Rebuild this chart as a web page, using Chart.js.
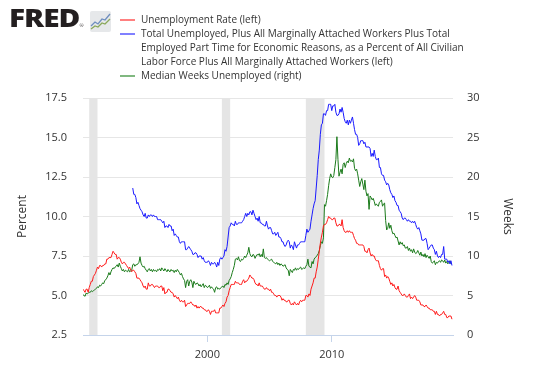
<!DOCTYPE html>
<html>
<head>
<meta charset="utf-8">
<script src="https://cdn.jsdelivr.net/npm/chart.js@4.4.1/dist/chart.umd.min.js"></script>
<style>
  html, body { margin: 0; padding: 0; background: #fff; }
  #wrap { position: relative; width: 537px; height: 385px; font-family: "Open Sans", sans-serif; }
  #chart { position: absolute; left: 0; top: 0; }
  .logo { position: absolute; left: 9px; top: 1px; font: 800 24px "Open Sans", sans-serif; color: #231f20; letter-spacing: -0.8px; transform: scaleX(1.24); transform-origin: 0 0; }
  .logo sup { font-size: 4px; font-weight: 400; vertical-align: 0; letter-spacing: 0; }
  .icon { position: absolute; left: 90px; top: 11px; }
  .legend { position: absolute; left: 120px; top: 12px; font-size: 10px; color: #333; line-height: 14px; }
  .item { position: relative; padding-left: 21px; }
  .sw { position: absolute; left: 0; top: 7px; width: 15px; height: 2px; }
</style>
</head>
<body>
<div id="wrap">
  <canvas id="chart" width="537" height="385"></canvas>
  <div class="logo">FRED<sup>®</sup></div>
  <svg class="icon" width="21" height="21" viewBox="0 0 21 21">
    <rect x="0" y="0" width="21" height="21" rx="2" fill="#e6e8ea"/>
    <polyline points="1,15 5,11 8,13 12,8 15,9 20,3" fill="none" stroke="#6f8fbf" stroke-width="1.3"/>
    <polyline points="1,18 5,15 8,16 12,12 15,13 20,8" fill="none" stroke="#8aa85a" stroke-width="1.3"/>
  </svg>
  <div class="legend" id="legend"></div>
</div>
<script>
// monthly observations, first value = Jan of startYear
const startYear = 1990;
const u6Start = 1994;

const unrate = [
  5.4,5.3,5.2,5.4,5.4,5.2,5.5,5.7,5.9,5.9,6.2,6.3,
  6.4,6.6,6.8,6.7,6.9,6.9,6.8,6.9,6.9,7.0,7.0,7.3,
  7.3,7.4,7.4,7.4,7.6,7.8,7.7,7.6,7.6,7.3,7.4,7.4,
  7.3,7.1,7.0,7.1,7.1,7.0,6.9,6.8,6.7,6.8,6.6,6.5,
  6.6,6.6,6.5,6.4,6.1,6.1,6.1,6.0,5.9,5.8,5.6,5.5,
  5.6,5.4,5.4,5.8,5.6,5.6,5.7,5.7,5.6,5.5,5.6,5.6,
  5.6,5.5,5.5,5.6,5.6,5.3,5.5,5.1,5.2,5.2,5.4,5.4,
  5.3,5.2,5.2,5.1,4.9,5.0,4.9,4.8,4.9,4.7,4.6,4.7,
  4.6,4.6,4.7,4.3,4.4,4.5,4.5,4.5,4.6,4.5,4.4,4.4,
  4.3,4.4,4.2,4.3,4.2,4.3,4.3,4.2,4.2,4.1,4.1,4.0,
  4.0,4.1,4.0,3.8,4.0,4.0,4.0,4.1,3.9,3.9,3.9,3.9,
  4.2,4.2,4.3,4.4,4.3,4.5,4.6,4.9,5.0,5.3,5.5,5.7,
  5.7,5.7,5.7,5.9,5.8,5.8,5.8,5.7,5.7,5.7,5.9,6.0,
  5.8,5.9,5.9,6.0,6.1,6.3,6.2,6.1,6.1,6.0,5.8,5.7,
  5.7,5.6,5.8,5.6,5.6,5.6,5.5,5.4,5.4,5.5,5.4,5.4,
  5.3,5.4,5.2,5.2,5.1,5.0,5.0,4.9,5.0,5.0,5.0,4.9,
  4.7,4.8,4.7,4.7,4.6,4.6,4.7,4.7,4.5,4.4,4.5,4.4,
  4.6,4.5,4.4,4.5,4.4,4.6,4.7,4.6,4.7,4.7,4.7,5.0,
  5.0,4.9,5.1,5.0,5.4,5.6,5.8,6.1,6.1,6.5,6.8,7.3,
  7.8,8.3,8.7,9.0,9.4,9.5,9.5,9.6,9.8,10.0,9.9,9.9,
  9.8,9.8,9.9,9.9,9.6,9.4,9.4,9.5,9.5,9.4,9.8,9.3,
  9.1,9.0,9.0,9.1,9.0,9.1,9.0,9.0,9.0,8.8,8.6,8.5,
  8.3,8.3,8.2,8.2,8.2,8.2,8.2,8.1,7.8,7.8,7.7,7.9,
  8.0,7.7,7.5,7.6,7.5,7.5,7.3,7.2,7.2,7.2,6.9,6.7,
  6.6,6.7,6.7,6.2,6.3,6.1,6.2,6.1,5.9,5.7,5.8,5.6,
  5.7,5.5,5.4,5.4,5.6,5.3,5.2,5.1,5.0,5.0,5.1,5.0,
  4.9,4.9,5.0,5.1,4.8,4.9,4.8,4.9,5.0,4.9,4.7,4.7,
  4.7,4.6,4.4,4.4,4.4,4.3,4.3,4.4,4.3,4.2,4.2,4.1,
  4.1,4.1,4.0,4.0,3.8,4.0,3.8,3.8,3.7,3.8,3.8,3.9,
  4.0,3.8,3.8,3.6,3.6,3.7,3.7,3.7,3.5
];

const u6rate = [
  11.8,11.4,11.4,11.2,10.8,10.9,10.7,10.5,10.4,10.3,10.1,10.0,
  10.2,9.9,9.9,10.1,10.0,10.1,10.1,10.0,10.1,10.0,10.0,10.0,
  9.8,9.8,9.8,9.8,9.7,9.6,9.7,9.3,9.4,9.4,9.3,9.5,
  9.4,9.4,9.1,9.2,8.8,8.9,8.8,8.7,8.7,8.4,8.3,8.4,
  8.4,8.4,8.4,7.9,7.9,8.0,8.1,8.0,7.9,7.8,7.6,7.6,
  7.7,7.7,7.6,7.4,7.5,7.5,7.5,7.3,7.4,7.2,7.1,7.1,
  7.1,7.2,7.1,6.9,7.1,7.0,7.0,7.1,7.0,6.8,7.1,6.9,
  7.3,7.4,7.3,7.4,7.5,7.9,7.8,8.1,8.7,9.3,9.4,9.6,
  9.5,9.5,9.4,9.7,9.5,9.5,9.6,9.6,9.6,9.6,9.7,9.8,
  10.0,10.2,10.0,10.2,10.1,10.3,10.3,10.1,10.4,10.2,10.0,9.8,
  9.9,9.7,10.0,9.6,9.6,9.5,9.5,9.4,9.4,9.7,9.4,9.2,
  9.3,9.3,9.1,8.9,8.9,9.0,8.8,8.9,9.0,8.7,8.7,8.6,
  8.4,8.4,8.2,8.1,8.2,8.4,8.5,8.4,8.0,8.2,8.1,7.9,
  8.4,8.2,8.0,8.2,8.2,8.3,8.4,8.4,8.4,8.4,8.4,8.8,
  9.2,9.0,9.1,9.2,9.7,10.1,10.5,10.8,11.0,11.8,12.6,13.6,
  14.2,15.2,15.8,15.9,16.5,16.5,16.4,16.7,16.7,17.1,17.1,17.1,
  16.7,17.0,17.0,17.1,16.6,16.4,16.4,16.5,16.8,16.6,16.9,16.6,
  16.2,16.0,15.9,16.1,15.8,16.1,15.9,16.1,16.3,15.9,15.5,15.2,
  15.2,15.0,14.5,14.6,14.8,14.8,14.8,14.6,14.7,14.4,14.4,14.4,
  14.4,14.3,13.8,14.0,13.8,14.2,13.8,13.6,13.6,13.7,13.1,13.1,
  12.7,12.6,12.6,12.3,12.2,12.0,12.1,12.0,11.7,11.5,11.4,11.2,
  11.3,11.0,10.9,10.7,10.7,10.4,10.3,10.2,9.9,9.8,9.9,9.9,
  9.8,9.7,9.8,9.7,9.7,9.6,9.7,9.6,9.7,9.5,9.3,9.2,
  9.3,9.1,8.9,8.5,8.5,8.5,8.6,8.6,8.3,7.9,8.0,8.1,
  8.2,8.2,8.0,7.9,7.6,7.8,7.5,7.4,7.5,7.4,7.6,7.6,
  8.1,7.3,7.3,7.3,7.1,7.2,7.0,7.2,6.9
];

const medianWeeks = [
  5.1,5.0,4.9,5.3,5.2,5.3,5.4,5.4,5.6,5.5,5.6,5.7,
  5.8,5.9,6.1,6.0,6.3,6.2,6.4,6.6,6.5,6.9,7.0,7.2,
  7.5,7.9,7.6,8.0,8.3,8.5,8.4,8.6,8.7,8.9,8.6,9.1,
  8.7,8.4,8.1,8.3,8.0,8.2,8.1,8.0,8.3,8.0,8.1,8.2,
  8.9,9.0,8.7,8.9,8.9,9.0,9.2,9.9,9.1,8.8,8.6,8.7,
  8.4,8.2,8.0,8.3,8.4,8.1,8.3,8.0,8.3,8.1,8.2,8.0,
  8.3,8.2,8.4,8.1,8.5,8.3,8.1,8.4,8.2,8.0,8.3,8.1,
  8.0,8.3,8.1,8.2,7.9,8.2,8.0,8.3,8.1,7.9,7.6,7.8,
  7.4,7.1,6.9,6.0,6.8,7.0,6.2,6.8,7.0,6.7,6.0,6.8,
  6.5,6.4,6.6,6.5,6.2,6.4,6.1,6.3,6.5,6.0,6.3,6.2,
  6.0,6.1,6.3,5.9,6.1,5.9,5.8,5.4,6.0,6.1,5.8,5.9,
  5.8,6.0,6.1,6.2,6.0,6.4,6.3,6.6,6.4,6.9,7.1,7.4,
  7.9,8.3,8.8,9.6,9.7,9.5,9.9,9.4,9.3,9.6,9.5,9.7,
  10.0,9.8,10.1,10.4,11.1,10.3,10.0,9.9,10.2,10.1,9.7,10.0,
  10.2,10.1,10.3,9.9,10.2,9.9,10.9,9.8,9.7,9.8,9.6,9.5,
  9.4,9.5,9.6,9.3,9.2,9.1,9.0,9.2,8.9,9.1,8.8,9.0,
  8.9,8.7,8.8,8.9,8.5,8.3,8.2,7.5,8.3,8.1,7.9,8.3,
  8.2,8.5,8.2,8.4,8.3,8.5,8.6,8.3,8.4,8.5,8.4,8.7,
  8.9,9.6,8.7,8.6,8.5,9.3,9.0,9.6,9.8,9.9,10.1,10.3,
  10.7,11.3,11.8,11.6,12.3,16.5,16.3,17.0,17.8,18.9,19.8,20.4,
  20.0,19.9,20.2,21.2,22.2,25.1,22.2,20.1,20.6,21.0,20.4,21.6,
  21.8,21.2,21.7,22.0,21.8,22.4,22.0,22.1,21.9,22.3,21.1,20.8,
  21.0,20.4,19.6,18.8,19.4,19.8,19.1,18.4,19.6,18.2,17.6,17.9,
  15.9,17.6,17.4,17.1,17.3,16.9,16.4,16.6,16.4,16.3,16.8,16.9,
  17.1,16.3,16.6,16.7,14.5,13.3,13.5,14.2,13.5,13.9,13.2,12.8,
  12.9,12.6,12.3,12.4,11.9,11.4,11.8,11.5,11.7,11.3,11.4,11.0,
  11.0,11.2,10.7,11.0,10.6,10.8,10.4,10.9,10.5,10.3,10.4,10.7,
  10.4,10.1,10.5,10.0,10.2,9.9,10.3,9.8,10.1,9.9,9.7,10.0,
  9.3,9.1,9.2,9.4,8.9,9.2,9.1,9.3,9.4,9.2,9.5,9.4,
  9.2,9.5,9.1,9.3,9.0,9.2,9.4,9.0,9.1
];

// NBER recessions, [start, end] as fractional years
const recessions = [[1990 + 6/12, 1991 + 2/12], [2001 + 2/12, 2001 + 10/12], [2007 + 11/12, 2009 + 5/12]];

const xTicks = [2000, 2010];
const leftTicks = [2.5, 5.0, 7.5, 10.0, 12.5, 15.0, 17.5];
const rightTicks = [0, 5, 10, 15, 20, 25, 30];

const labels = [
  'Unemployment Rate (left)',
  'Total Unemployed, Plus All Marginally Attached Workers Plus Total Employed Part Time for Economic Reasons, as a Percent of All Civilian Labor Force Plus All Marginally Attached Workers (left)',
  'Median Weeks Unemployed (right)'
];
const lineColors = ['#ff1a1a', '#1a1aff', '#1a7a1a'];
const swatchColors = ['#ff8080', '#8080ff', '#80b880'];

function toPoints(arr, year0){
  return arr.map(function(v, i){ return {x: year0 + i/12, y: v}; });
}

// html legend, with the long label wrapped like the original
var legendHtml = '';
var legendText = [labels[0],
  'Total Unemployed, Plus All Marginally Attached Workers Plus Total<br>Employed Part Time for Economic Reasons, as a Percent of All Civilian<br>Labor Force Plus All Marginally Attached Workers (left)',
  labels[2]];
for(var i=0; i<legendText.length; i++){
  legendHtml += '<div class="item"><span class="sw" style="background:' + swatchColors[i] + '"></span>' + legendText[i] + '</div>';
}
document.getElementById('legend').innerHTML = legendHtml;

const shading = {
  id: 'shading',
  beforeDatasetsDraw(chart){
    const ctx = chart.ctx, a = chart.chartArea, xs = chart.scales.x;
    ctx.save();
    ctx.fillStyle = '#e5e5e5';
    recessions.forEach(function(r){
      const x0 = xs.getPixelForValue(r[0]), x1 = xs.getPixelForValue(r[1]);
      ctx.fillRect(x0, a.top, x1 - x0, a.bottom - a.top);
    });
    ctx.restore();
  }
};

const tickFont = {family: 'Open Sans', size: 11};

new Chart(document.getElementById('chart'), {
  type: 'line',
  data: {
    datasets: [
      {label: labels[0], data: toPoints(unrate, startYear), borderColor: lineColors[0], yAxisID: 'y'},
      {label: labels[1], data: toPoints(u6rate, u6Start), borderColor: lineColors[1], yAxisID: 'y'},
      {label: labels[2], data: toPoints(medianWeeks, startYear), borderColor: lineColors[2], yAxisID: 'y1'}
    ]
  },
  options: {
    responsive: false,
    animation: false,
    elements: {
      line: {borderWidth: 1, tension: 0},
      point: {radius: 0}
    },
    layout: {padding: {left: 10, right: 10, top: 98, bottom: 10}},
    plugins: {legend: {display: false}, tooltip: {enabled: false}},
    scales: {
      x: {
        type: 'linear', min: 1990, max: 2019.75,
        afterBuildTicks: function(s){ s.ticks = xTicks.map(function(v){ return {value: v}; }); },
        afterFit: function(s){ s.height = 40; },
        ticks: {font: tickFont, color: '#333', padding: 6, maxRotation: 0, callback: function(v){ return String(v); }},
        grid: {drawOnChartArea: false, drawTicks: true, tickLength: 7, color: '#c5d4ea'},
        border: {color: '#c5d4ea'}
      },
      y: {
        position: 'left', min: 2.5, max: 17.5,
        afterBuildTicks: function(s){ s.ticks = leftTicks.map(function(v){ return {value: v}; }); },
        afterFit: function(s){ s.width = 73; },
        ticks: {font: tickFont, color: '#333', padding: 16, callback: function(v){ return v.toFixed(1); }},
        grid: {color: '#e6e6e6', drawTicks: false},
        border: {display: false},
        title: {display: true, text: 'Percent', color: '#333', font: {family: 'Open Sans', size: 12}, padding: {top: 5, bottom: 0}}
      },
      y1: {
        position: 'right', min: 0, max: 30,
        afterBuildTicks: function(s){ s.ticks = rightTicks.map(function(v){ return {value: v}; }); },
        afterFit: function(s){ s.width = 74; },
        ticks: {font: tickFont, color: '#333', padding: 14},
        grid: {drawOnChartArea: false, drawTicks: false},
        border: {display: false},
        title: {display: true, text: 'Weeks', color: '#333', font: {family: 'Open Sans', size: 12}, padding: {top: 12, bottom: 0}}
      }
    }
  },
  plugins: [shading]
});
</script>
</body>
</html>
